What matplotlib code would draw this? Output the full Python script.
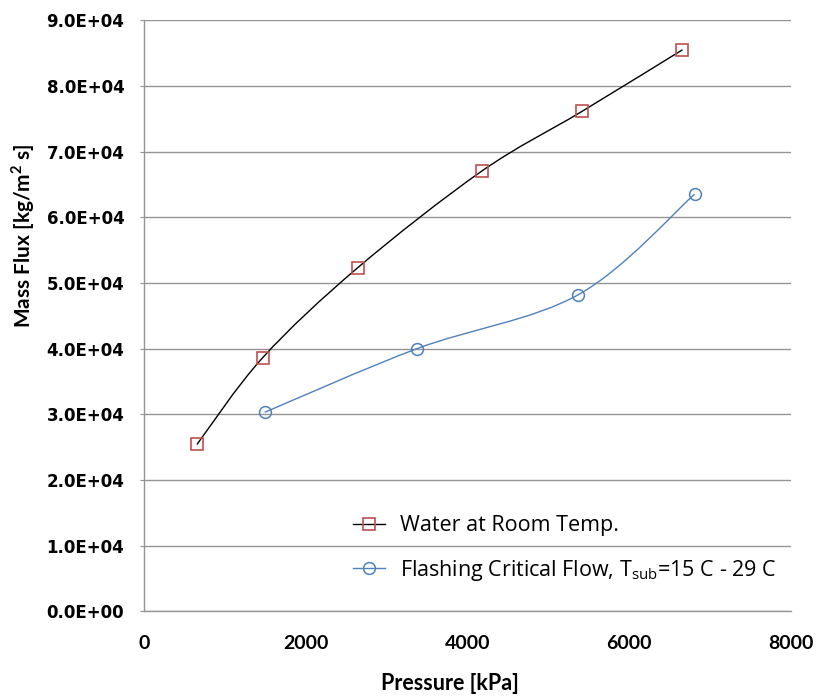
import matplotlib
matplotlib.use('Agg')
import matplotlib.pyplot as plt
from matplotlib.path import Path
from matplotlib.patches import PathPatch
from matplotlib.lines import Line2D
import numpy as np

# data
p_water = [657, 1469, 2644, 4176, 5415, 6660]
g_water = [2.54e4, 3.86e4, 5.23e4, 6.70e4, 7.61e4, 8.55e4]
p_flash = [1495, 3380, 5372, 6809]
g_flash = [3.03e4, 4.00e4, 4.82e4, 6.35e4]

lbl_water = 'Water at Room Temp.'
lbl_flash = r'Flashing Critical Flow, T$_{\mathrm{sub}}$=15 C - 29 C'

xticks = [0, 2000, 4000, 6000, 8000]
yticks = [0, 1e4, 2e4, 3e4, 4e4, 5e4, 6e4, 7e4, 8e4, 9e4]

c_red = '#C0504D'
c_blue = '#4F81BD'
c_grid = '#949494'

plt.rcParams['mathtext.fontset'] = 'custom'
plt.rcParams['mathtext.rm'] = 'Open Sans'
plt.rcParams['mathtext.bf'] = 'Lato:bold'


def smooth_path(x, y):
    # excel-like smoothed line: cubic bezier through the points
    pts = np.column_stack([x, y]).astype(float)
    n = len(pts)
    verts = [pts[0]]
    codes = [Path.MOVETO]
    for i in range(n - 1):
        p0 = pts[i - 1] if i > 0 else pts[i]
        p1 = pts[i]
        p2 = pts[i + 1]
        p3 = pts[i + 2] if i + 2 < n else pts[i + 1]
        verts += [p1 + (p2 - p0) / 6, p2 - (p3 - p1) / 6, p2]
        codes += [Path.CURVE4] * 3
    return Path(verts, codes)


fig = plt.figure(figsize=(8.17, 6.97), dpi=100)
ax = fig.add_axes([0.176, 0.123, 0.792, 0.848])

ax.add_patch(PathPatch(smooth_path(p_water, g_water), fc='none', ec='black', lw=1.0, zorder=3))
ax.add_patch(PathPatch(smooth_path(p_flash, g_flash), fc='none', ec=c_blue, lw=1.0, zorder=3))
ax.plot(p_water, g_water, ls='none', marker='s', ms=8.5, mfc='none', mec=c_red, mew=1.2, zorder=4)
ax.plot(p_flash, g_flash, ls='none', marker='o', ms=8.5, mfc='none', mec=c_blue, mew=1.1, zorder=4)

ax.set_xlim(0, 8000)
ax.set_ylim(0, 9e4)
ax.set_xticks(xticks)
ax.set_yticks(yticks)
ax.set_yticklabels(['%.1fE+04' % (v / 1e4) if v > 0 else '0.0E+00' for v in yticks],
                   fontsize=12, fontweight='bold', family='DejaVu Sans')
ax.set_xticklabels([str(v) for v in xticks], fontsize=14, fontweight='bold', family='Lato')
ax.tick_params(axis='y', length=3, color=c_grid, pad=11)
ax.tick_params(axis='x', length=0, pad=17)

ax.grid(axis='y', color=c_grid, lw=1.0)
ax.set_axisbelow(True)
for s in ['top', 'right']:
    ax.spines[s].set_visible(False)
for s in ['left', 'bottom']:
    ax.spines[s].set_color(c_grid)
    ax.spines[s].set_linewidth(1.0)

fig.text(450 / 817, 1 - 683 / 697, 'Pressure [kPa]', fontsize=15.5, fontweight='bold',
         family='Lato', ha='center', va='center')
fig.text(23 / 817, 1 - 236 / 697, r'Mass Flux [kg/m$^\mathbf{2}$ s]', fontsize=15,
         fontweight='bold', family='Lato', ha='center', va='center', rotation=90)

handles = [
    Line2D([], [], color='black', lw=1.0, marker='s', ms=8.5, mfc='none', mec=c_red, mew=1.2),
    Line2D([], [], color=c_blue, lw=1.0, marker='o', ms=8.5, mfc='none', mec=c_blue, mew=1.1),
]
ax.legend(handles, [lbl_water, lbl_flash], loc='center left', bbox_to_anchor=(0.293, 0.105),
          frameon=False, prop={'family': 'Open Sans', 'size': 15.5}, handlelength=1.5,
          labelspacing=1.0, handletextpad=0.7)

fig.savefig('out.png', dpi=100)
